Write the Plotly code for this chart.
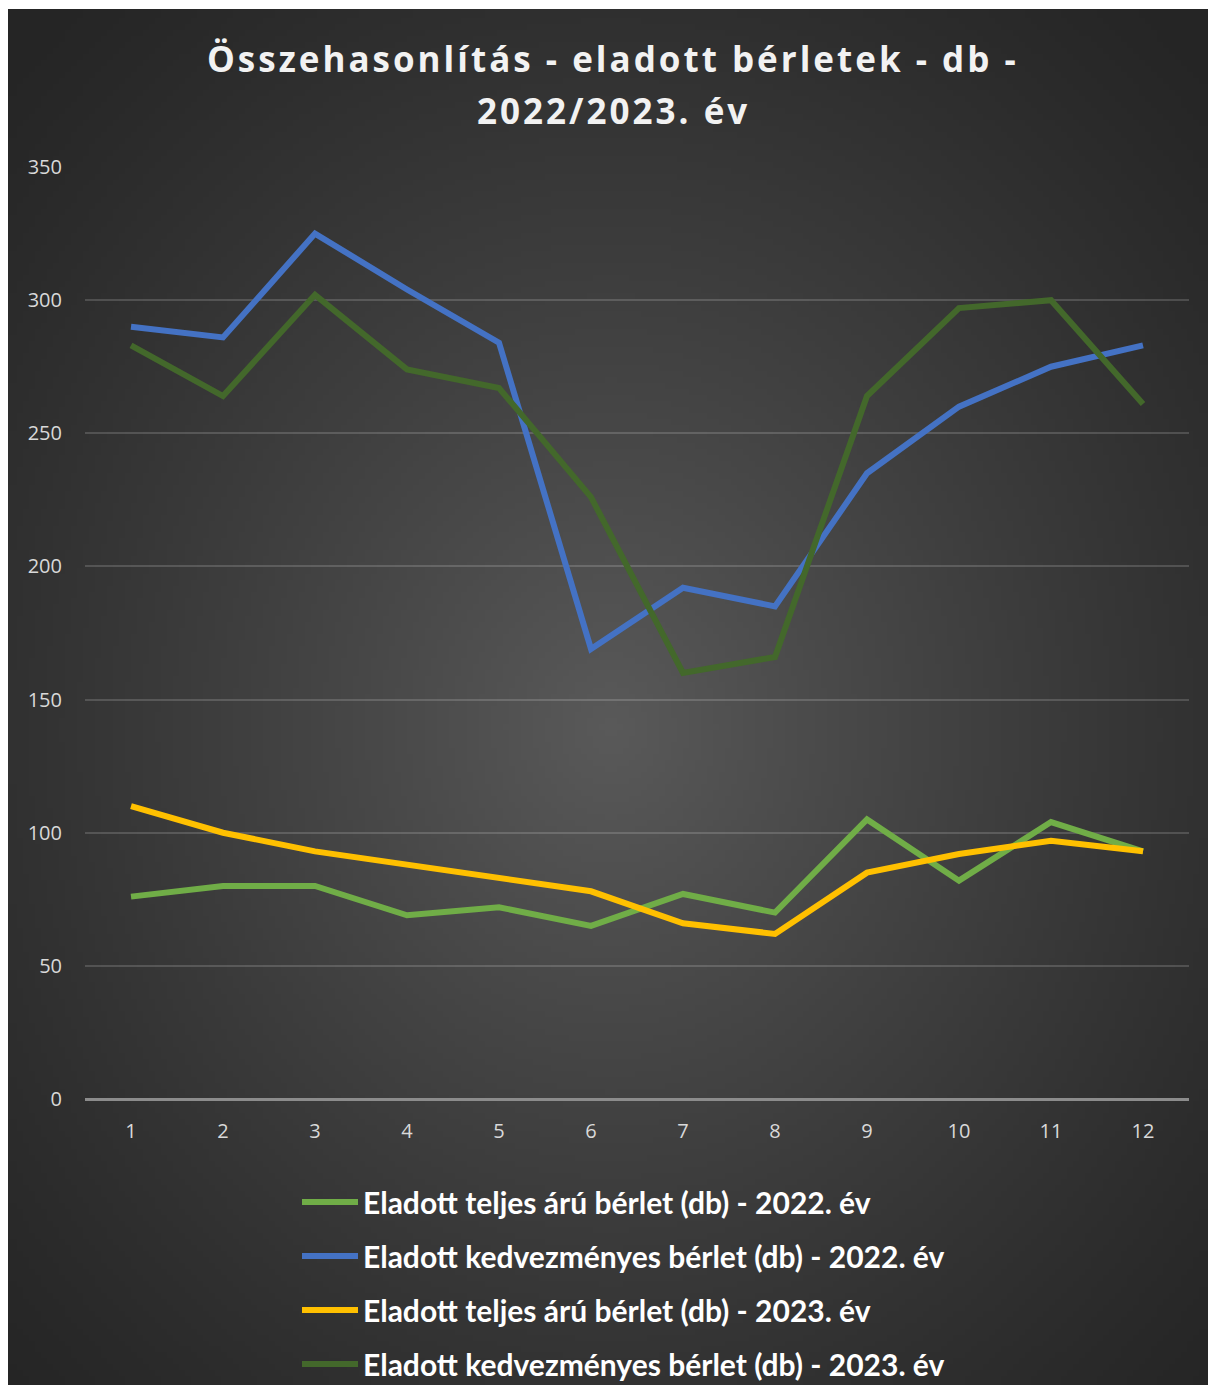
import base64
import struct
import zlib

import numpy as np
import plotly.graph_objects as go

# ---------------- data ----------------
months = [1, 2, 3, 4, 5, 6, 7, 8, 9, 10, 11, 12]
teljes_2022 = [76, 80, 80, 69, 72, 65, 77, 70, 105, 82, 104, 93]
kedv_2022 = [290, 286, 325, 304, 284, 169, 192, 185, 235, 260, 275, 283]
teljes_2023 = [110, 100, 93, 88, 83, 78, 66, 62, 85, 92, 97, 93]
kedv_2023 = [283, 264, 302, 274, 267, 226, 160, 166, 264, 297, 300, 261]

series_names = [
    "Eladott teljes árú bérlet (db) - 2022. év",
    "Eladott kedvezményes bérlet (db) - 2022. év",
    "Eladott teljes árú bérlet (db) - 2023. év",
    "Eladott kedvezményes bérlet (db) - 2023. év",
]
series_values = [teljes_2022, kedv_2022, teljes_2023, kedv_2023]
series_colors = ["#70AD47", "#4472C4", "#FFC000", "#43682B"]

title_line1 = "Összehasonlítás - eladott bérletek - db -"
title_line2 = "2022/2023. év"
y_ticks = [0, 50, 100, 150, 200, 250, 300, 350]

# ---------------- layout geometry (pixels) ----------------
W, H = 1208, 1385
PL, PR, PT, PB = 85, 1189, 167, 1099  # plot area edges
pw, ph = PR - PL, PB - PT
BX0, BY0 = 8, 9  # dark chart box starts here


def px_to_paper_x(x):
    return (x - PL) / pw


def px_to_paper_y(y):
    return (PB - y) / ph


# ---------------- radial gradient background as PNG ----------------
def make_png(arr):
    h, w, _ = arr.shape
    raw = b"".join(b"\x00" + arr[i].tobytes() for i in range(h))

    def chunk(tag, data):
        c = struct.pack(">I", len(data)) + tag + data
        return c + struct.pack(">I", zlib.crc32(tag + data) & 0xFFFFFFFF)

    png = b"\x89PNG\r\n\x1a\n"
    png += chunk(b"IHDR", struct.pack(">IIBBBBB", w, h, 8, 2, 0, 0, 0))
    png += chunk(b"IDAT", zlib.compress(raw, 9))
    png += chunk(b"IEND", b"")
    return "data:image/png;base64," + base64.b64encode(png).decode()


gw, gh = 200, 230
yy, xx = np.mgrid[0:gh, 0:gw]
cx, cy = 0.5 * gw, 0.52 * gh
d = np.sqrt(((xx - cx) / (gw / 2)) ** 2 + ((yy - cy) / (gh / 2)) ** 2) / np.sqrt(2)
d = np.clip(d, 0, 1)
c_in, c_out = 90.0, 37.0
val = c_out + (c_in - c_out) * (1 - d) ** 1.2
img = np.stack([val, val, val], axis=-1).astype(np.uint8)
bg_src = make_png(img)

# ---------------- figure ----------------
fig = go.Figure()
for name, vals, col in zip(series_names, series_values, series_colors):
    fig.add_trace(
        go.Scatter(
            x=months,
            y=vals,
            mode="lines",
            name=name,
            legendgroup=name,
            line=dict(color=col, width=6),
            hoverinfo="x+y+name",
        )
    )

fig.add_layout_image(
    dict(
        source=bg_src,
        xref="paper",
        yref="paper",
        x=px_to_paper_x(BX0),
        y=px_to_paper_y(BY0),
        sizex=(W - BX0) / pw,
        sizey=(H - BY0) / ph,
        xanchor="left",
        yanchor="top",
        sizing="stretch",
        layer="below",
    )
)

title_font = dict(family="Open Sans", size=35, color="#F2F2F2", weight="bold")
for txt, ypx in [(title_line1, 58), (title_line2, 110)]:
    fig.add_annotation(
        text=f'<span style="letter-spacing:3px">{txt}</span>',
        xref="paper",
        yref="paper",
        x=px_to_paper_x(613),
        y=px_to_paper_y(ypx),
        xanchor="center",
        yanchor="middle",
        showarrow=False,
        font=title_font,
    )

fig.update_layout(
    width=W,
    height=H,
    margin=dict(l=PL, r=W - PR, t=PT, b=H - PB, autoexpand=False),
    paper_bgcolor="white",
    plot_bgcolor="rgba(0,0,0,0)",
    showlegend=True,
    legend=dict(
        x=px_to_paper_x(297),
        y=px_to_paper_y(1176),
        xanchor="left",
        yanchor="top",
        orientation="v",
        bgcolor="rgba(0,0,0,0)",
        font=dict(family="Lato", size=30, color="#FFFFFF", weight="bold"),
        itemwidth=56,
        tracegroupgap=12,
        traceorder="grouped",
    ),
    xaxis=dict(
        range=[0.5, 12.5],
        tickmode="array",
        tickvals=months,
        ticktext=[str(m) for m in months],
        showgrid=False,
        zeroline=False,
        showline=False,
        ticks="",
        tickfont=dict(family="Open Sans", size=20, color="#D9D9D9"),
        ticklabelstandoff=18,
        fixedrange=True,
    ),
    yaxis=dict(
        range=[0, 350],
        tickmode="array",
        tickvals=y_ticks,
        showgrid=True,
        gridcolor="rgba(255,255,255,0.16)",
        gridwidth=1.5,
        zeroline=True,
        zerolinecolor="#8C8C8C",
        zerolinewidth=2.5,
        showline=False,
        ticks="",
        tickfont=dict(family="Open Sans", size=20, color="#D9D9D9"),
        ticklabelstandoff=22,
        fixedrange=True,
    ),
)

fig.write_html(
    "out.html",
    config={"displayModeBar": False},
    post_script="document.body.style.margin='0';document.body.style.overflow='hidden';",
)
